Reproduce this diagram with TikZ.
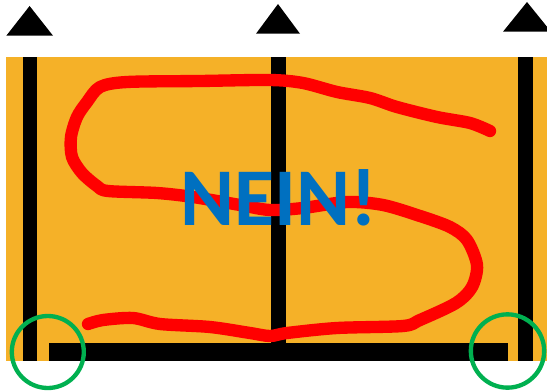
\documentclass[tikz,border=0pt]{standalone}
\usepackage{fontspec}
\newfontfamily\calib{Carlito}
\definecolor{cbeam}{RGB}{245,177,40}
\definecolor{cnein}{RGB}{0,112,192}
\definecolor{cring}{RGB}{0,176,80}
\begin{document}
\begin{tikzpicture}[x=0.3mm, y=-0.3mm,
  bar/.style={fill=black},
  support/.style={fill=black},
  scribble/.style={draw=red, line width=3.7mm, line cap=round, line join=round},
  ring/.style={draw=cring, line width=1.3mm},
  nein/.style={text=cnein, inner sep=0pt, anchor=base,
               font=\calib\bfseries\fontsize{70pt}{72pt}\selectfont}]
\useasboundingbox (0,0) rectangle (547,390);
% supports
\fill[support] (6.3,35.7) -- (29.6,6) -- (53,35.7) -- cycle;
\fill[support] (256,33.7) -- (278,4) -- (300,33.7) -- cycle;
\fill[support] (503,31.7) -- (527,2) -- (551,31.7) -- cycle;
% beam
\fill[cbeam] (6,57) rectangle (547,361);
\fill[bar] (23,57) rectangle (37,361);
\fill[bar] (271,57) rectangle (286,343);
\fill[bar] (518,57) rectangle (533,361);
\fill[bar] (49,343) rectangle (507.5,361);
% scribble
\draw[scribble] plot[smooth, tension=0.5] coordinates {
  (490,131) (470,123) (437,117) (397,107) (370,98) (337,92) (303,83)
  (270,80) (200,81) (127,82) (100,87) (87,102) (77,117) (71,137)
  (72,157) (82,173) (97,186) (108,191) (157,193) (193,197) (240,205)
  (270,210) (303,208) (347,202) (383,205) (420,216) (450,227)
  (467,240) (477,265) (472,287) (456,303) (420,320) (403,326)
  (337,328) (287,333) (270,336) (250,333) (210,327) (160,324)
  (133,318) (103,320) (88,324)};
\node[nein] (word) at (279,225) {NEIN!};
% problem spots
\draw[ring] (47.8,352) circle[radius=10.8mm];
\draw[ring] (507.5,351) circle[radius=11mm];
\end{tikzpicture}
\end{document}
